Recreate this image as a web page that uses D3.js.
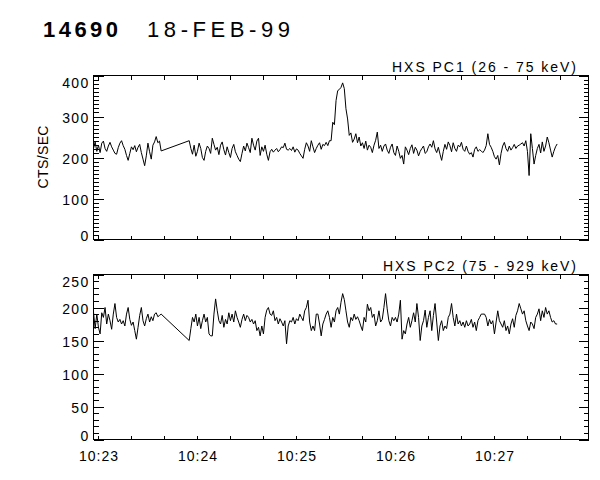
<!DOCTYPE html>
<html><head><meta charset="utf-8">
<script src="https://cdn.jsdelivr.net/npm/d3@7"></script>
<style>body{margin:0;background:#fff}svg{display:block}</style>
</head><body><svg id="c" width="600" height="480"></svg>
<script>
const titleId = "14690";
const titleDate = "18-FEB-99";
const panelLabels = ["HXS PC1 (26 - 75 keV)", "HXS PC2 (75 - 929 keV)"];
const yLabel = "CTS/SEC";
const xDomain = ["10:22:57", "10:27:57"];
const segStarts = ["10:22:57", "10:23:55"];
const pc1Ticks = [0, 100, 200, 300, 400];
const pc2Ticks = [0, 50, 100, 150, 200, 250];

const pc1Seg1 = [222,238,215,230,212,235,240,222,215,228,237,226,218,210,208,224,235,241,229,220,
  205,193,210,226,219,229,214,225,232,212,196,180,204,235,214,196,230,238,251,236,240,216];
const pc1Seg2 = [241,222,208,230,203,215,235,222,200,193,
  215,228,222,210,247,232,218,225,207,230,
  238,219,206,226,212,200,222,232,214,205,
  196,190,210,228,216,235,224,212,247,230,
  218,240,247,205,226,215,230,208,193,214,
  220,213,218,222,214,219,226,224,235,220,
  218,222,217,226,213,221,218,210,204,198,
  220,236,228,215,241,226,212,222,230,236,
  220,232,229,237,229,241,241,286,280,339,
  363,366,371,382,368,319,294,254,260,237,
  245,258,236,250,228,236,222,240,218,230,
  225,212,230,242,262,222,230,215,228,233,
  218,210,225,233,212,205,228,215,198,205,
  184,226,218,207,222,231,210,225,218,204,
  215,222,228,210,214,226,233,225,241,221,
  212,225,208,193,215,232,220,238,229,214,
  236,222,215,230,226,237,220,215,228,215,
  208,212,201,220,226,215,219,216,212,218,
  229,258,232,225,215,202,196,205,182,210,
  228,237,222,215,228,218,224,232,222,228,
  230,233,236,228,241,215,156,258,222,184,
  205,222,232,211,238,215,228,250,236,218,
  201,215,226,233];

const pc2Seg1 = [193,168,190,170,160,192,185,200,175,190,
  180,167,190,206,185,178,182,175,180,172,
  190,200,182,173,178,165,152,170,188,200,
  180,172,183,190,178,186,180,190,192,186,
  188,190];
const pc2Seg2 = [150,168,185,178,190,172,185,168,180,190,
  178,185,160,157,157,190,213,195,180,175,
  188,170,182,175,192,180,190,178,195,185,
  178,170,182,190,180,188,185,178,182,175,
  180,165,170,157,172,160,185,196,200,190,
  188,195,180,185,175,183,178,172,180,145,
  172,180,178,185,175,183,180,190,185,180,
  195,200,211,178,165,172,165,190,190,175,
  157,175,182,190,195,185,170,185,178,195,
  200,190,208,221,212,195,178,170,185,180,
  190,182,186,180,172,165,185,178,205,195,
  200,185,190,172,180,195,178,182,200,221,
  198,180,172,185,180,185,178,190,211,152,
  165,160,175,185,170,180,192,178,206,185,
  150,172,180,196,170,185,195,165,188,206,
  178,150,172,180,165,172,168,185,190,206,
  185,172,190,175,180,172,178,170,180,172,
  175,182,170,178,165,180,185,190,190,190,
  185,172,182,175,180,160,178,195,180,175,
  170,180,165,172,160,175,183,170,188,195,
  206,198,190,195,180,172,165,178,175,168,
  185,190,198,180,195,185,200,190,195,185,
  178,180,175,175];

const parse = d3.utcParse("%H:%M:%S");
const fmt = d3.utcFormat("%H:%M");
function build(segs) {
  const out = [];
  segs.forEach((vals, k) => {
    const t0 = parse(segStarts[k]).getTime();
    vals.forEach((v, i) => out.push({t: new Date(t0 + i * 1000), v}));
  });
  return out;
}

const svg = d3.select("#c");
const FONT = "'Liberation Sans', Arial, sans-serif";
const L = 93.5, R = 588.5;
const x = d3.scaleUtc().domain(xDomain.map(parse)).range([L, R]);
const xTicks = d3.utcSecond.every(20).range(parse("10:23:00"), x.domain()[1]);

svg.append("text").attr("x", 43).attr("y", 37).attr("font-family", FONT)
  .attr("font-size", 22).attr("font-weight", "bold").attr("textLength", 75)
  .attr("lengthAdjust", "spacing").text(titleId);
svg.append("text").attr("x", 147).attr("y", 37).attr("font-family", FONT)
  .attr("font-size", 22).attr("textLength", 143)
  .attr("lengthAdjust", "spacing").text(titleDate);

const panels = [
  {top: 75.5, bot: 239.5, domain: [0, 400], ticks: pc1Ticks, minor: 10,
   label: panelLabels[0], lx0: 392, lw: 184, ly: 72, data: build([pc1Seg1, pc1Seg2]), xlabels: false},
  {top: 274.5, bot: 439.5, domain: [0, 250], ticks: pc2Ticks, minor: 10,
   label: panelLabels[1], lx0: 383, lw: 193, ly: 271, data: build([pc2Seg1, pc2Seg2]), xlabels: true}
];

panels.forEach(p => {
  const y = d3.scaleLinear().domain(p.domain).range([p.bot, p.top]);
  const g = svg.append("g").attr("font-family", FONT);
  const minorVals = d3.range(p.domain[0], p.domain[1] + 0.001, p.minor);

  g.append("path").datum(p.data)
    .attr("fill", "none").attr("stroke", "#000").attr("stroke-width", 1)
    .attr("d", d3.line().x(d => x(d.t)).y(d => y(d.v)));

  const la = g.append("g").attr("transform", `translate(${L},0)`)
    .call(d3.axisLeft(y).tickValues(p.ticks).tickSize(-10).tickSizeOuter(0).tickPadding(4));
  la.select(".domain").remove();
  la.selectAll("text").attr("font-size", 14).attr("font-family", FONT).attr("fill", "#000")
    .attr("letter-spacing", 1.3)
    .attr("dy", d => d === p.domain[1] ? 11.5 : (d === p.domain[0] ? 0.5 : 5.6));
  la.selectAll("line").attr("stroke", "#000").attr("shape-rendering", "crispEdges");
  const lm = g.append("g").attr("transform", `translate(${L},0)`)
    .call(d3.axisLeft(y).tickValues(minorVals).tickSize(-5).tickSizeOuter(0).tickFormat(""));
  lm.select(".domain").remove();
  lm.selectAll("line").attr("stroke", "#000").attr("shape-rendering", "crispEdges");

  const ra = g.append("g").attr("transform", `translate(${R},0)`)
    .call(d3.axisRight(y).tickValues(p.ticks).tickSize(-10).tickSizeOuter(0).tickFormat(""));
  ra.select(".domain").remove();
  ra.selectAll("line").attr("stroke", "#000").attr("shape-rendering", "crispEdges");
  const rm = g.append("g").attr("transform", `translate(${R},0)`)
    .call(d3.axisRight(y).tickValues(minorVals).tickSize(-5).tickSizeOuter(0).tickFormat(""));
  rm.select(".domain").remove();
  rm.selectAll("line").attr("stroke", "#000").attr("shape-rendering", "crispEdges");

  const ba = g.append("g").attr("transform", `translate(0,${p.bot})`)
    .call(d3.axisBottom(x).tickValues(xTicks).tickSize(-4).tickSizeOuter(0).tickPadding(12)
      .tickFormat(d => (p.xlabels && d.getUTCSeconds() === 0) ? fmt(d) : ""));
  ba.select(".domain").remove();
  ba.selectAll("line").attr("stroke", "#000").attr("shape-rendering", "crispEdges");
  ba.selectAll("text").attr("font-size", 14).attr("font-family", FONT).attr("fill", "#000")
    .attr("letter-spacing", 1);

  const ta = g.append("g").attr("transform", `translate(0,${p.top})`)
    .call(d3.axisTop(x).tickValues(xTicks).tickSize(-4).tickSizeOuter(0).tickFormat(""));
  ta.select(".domain").remove();
  ta.selectAll("line").attr("stroke", "#000").attr("shape-rendering", "crispEdges");

  g.append("rect").attr("x", L).attr("y", p.top).attr("width", R - L).attr("height", p.bot - p.top)
    .attr("fill", "none").attr("stroke", "#000").attr("shape-rendering", "crispEdges");

  g.append("text").attr("x", p.lx0).attr("y", p.ly).attr("font-size", 14)
    .attr("textLength", p.lw).attr("lengthAdjust", "spacing").text(p.label);
});

svg.append("text").attr("transform", "translate(48,157) rotate(-90)")
  .attr("text-anchor", "middle").attr("font-family", FONT).attr("font-size", 14)
  .attr("textLength", 63).attr("lengthAdjust", "spacing").text(yLabel);
</script>
</body></html>
